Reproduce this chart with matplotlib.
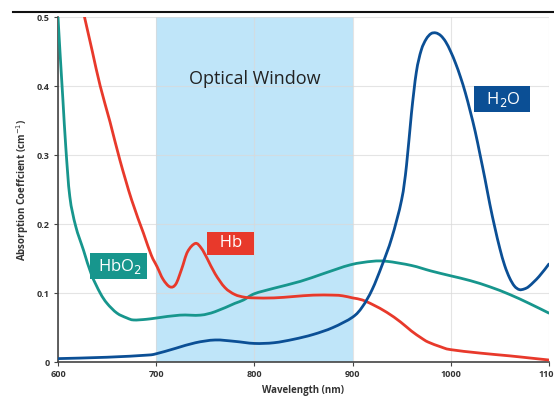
import numpy as np
import matplotlib
matplotlib.use("Agg")
import matplotlib.pyplot as plt
from matplotlib.lines import Line2D
from matplotlib.path import Path
from matplotlib.patches import PathPatch
from matplotlib.ticker import FuncFormatter


# absorption curves (wavelength nm -> cm^-1)
h2o_nm = [600, 650, 690, 700, 720, 740, 760, 780, 800, 820, 840, 860, 880,
          900, 910, 920, 930, 940, 950, 955, 960, 965, 970, 975, 980, 985,
          990, 995, 1000, 1005, 1010, 1015, 1020, 1025, 1030, 1035, 1040,
          1045, 1050, 1055, 1060, 1065, 1070, 1075, 1080, 1090, 1100]
h2o_val = [0.005, 0.007, 0.010, 0.012, 0.020, 0.028, 0.032, 0.030, 0.027,
           0.028, 0.033, 0.040, 0.050, 0.065, 0.080, 0.105, 0.140, 0.180,
           0.235, 0.285, 0.360, 0.420, 0.452, 0.468, 0.476, 0.477, 0.473,
           0.464, 0.450, 0.433, 0.413, 0.390, 0.363, 0.334, 0.300, 0.265,
           0.228, 0.195, 0.165, 0.140, 0.122, 0.110, 0.105, 0.106, 0.110,
           0.124, 0.142]

hb_nm = [627, 635, 643, 653, 663, 675, 687, 695, 701, 707, 714, 720, 726,
         732, 740, 746, 752, 760, 770, 780, 790, 800, 820, 840, 860, 880,
         890, 900, 910, 921, 935, 949, 960, 970, 977, 990, 1000, 1030, 1060,
         1080, 1100]
hb_val = [0.500, 0.450, 0.400, 0.348, 0.293, 0.235, 0.187, 0.155, 0.138,
          0.120, 0.109, 0.113, 0.135, 0.160, 0.172, 0.165, 0.150, 0.128,
          0.108, 0.098, 0.094, 0.093, 0.093, 0.095, 0.097, 0.097, 0.096,
          0.093, 0.090, 0.083, 0.072, 0.058, 0.045, 0.035, 0.029, 0.022,
          0.018, 0.013, 0.009, 0.006, 0.003]

hbo2_nm = [600, 602, 605, 608, 612, 618, 626, 634, 643, 650, 660, 670, 677,
           690, 701, 724, 745, 760, 780, 789, 800, 820, 847, 870, 898, 920,
           935, 960, 980, 1000, 1020, 1040, 1060, 1080, 1100]
hbo2_val = [0.500, 0.450, 0.380, 0.310, 0.240, 0.197, 0.162, 0.127, 0.100,
            0.085, 0.071, 0.064, 0.061, 0.062, 0.064, 0.068, 0.068, 0.073,
            0.085, 0.090, 0.099, 0.107, 0.117, 0.128, 0.141, 0.146, 0.146,
            0.140, 0.132, 0.125, 0.118, 0.109, 0.098, 0.085, 0.071]

window = (700, 900)
x_ticks = [600, 700, 800, 900, 1000, 1100]
y_ticks = [0, 0.1, 0.2, 0.3, 0.4, 0.5]

RED = "#e8392b"
TEAL = "#17968d"
BLUE = "#0b4f95"
SHADE = "#bfe5f9"


def smooth_curve(ax, xs, ys, color, zorder):
    # draw the read points as one bezier path (catmull-rom handles),
    # handles computed in display space so the curve looks even
    pts = ax.transData.transform(np.column_stack([xs, ys]))
    verts = [pts[0]]
    codes = [Path.MOVETO]
    n = len(pts)
    for i in range(n - 1):
        p0 = pts[max(i - 1, 0)]
        p1 = pts[i]
        p2 = pts[i + 1]
        p3 = pts[min(i + 2, n - 1)]
        c1 = p1 + (p2 - p0) / 6.0
        c2 = p2 - (p3 - p1) / 6.0
        verts += [c1, c2, p2]
        codes += [Path.CURVE4] * 3
    path = Path(verts, codes)
    patch = PathPatch(path, facecolor="none", edgecolor=color, lw=2.0,
                      capstyle="round", joinstyle="round",
                      transform=None, zorder=zorder)
    patch.set_clip_path(ax.patch)
    fig.add_artist(patch)


plt.rcParams["font.family"] = ["Open Sans", "DejaVu Sans"]

fig = plt.figure(figsize=(5.54, 3.97), dpi=100)
ax = fig.add_axes([0.1047, 0.088, 0.886, 0.869])

ax.axvspan(*window, color=SHADE, zorder=0.2, lw=0)
ax.grid(True, color="#d9d9d9", lw=0.8, alpha=0.7, zorder=0.5)
ax.set_axisbelow(True)

ax.set_xlim(600, 1100)
ax.set_ylim(0, 0.5)
ax.set_xticks(x_ticks)
ax.set_yticks(y_ticks)
ax.yaxis.set_major_formatter(FuncFormatter(lambda v, p: "0" if v == 0 else f"{v:.1f}"))

smooth_curve(ax, hbo2_nm, hbo2_val, TEAL, 3)
smooth_curve(ax, hb_nm, hb_val, RED, 3)
smooth_curve(ax, h2o_nm, h2o_val, BLUE, 4)

for side in ("top", "right"):
    ax.spines[side].set_visible(False)
for side in ("left", "bottom"):
    ax.spines[side].set_color("#444444")
    ax.spines[side].set_linewidth(1.2)

ax.tick_params(labelsize=6.5, length=3, width=0.8, color="#444444", pad=3)
for lbl in ax.get_xticklabels() + ax.get_yticklabels():
    lbl.set_fontweight("bold")
    lbl.set_color("#333333")

ax.set_xlabel("Wavelength (nm)", fontsize=7, fontweight="bold", color="#333333")
ax.set_ylabel("Absorption Coeffcient (cm$^{-1}$)", fontsize=7,
              fontweight="bold", color="#333333")

ax.text(800, 0.41, "Optical Window", fontsize=13, ha="center", va="center",
        color="#222222")

box = dict(boxstyle="square,pad=0.22", lw=0)
ax.text(662, 0.139, " HbO$_2$ ", fontsize=12, color="white", ha="center",
        va="center", bbox=dict(box, facecolor=TEAL), zorder=5)
ax.text(776, 0.172, "  Hb  ", fontsize=12, color="white", ha="center",
        va="center", bbox=dict(box, facecolor=RED), zorder=5)
ax.text(1052, 0.381, "  H$_2$O  ", fontsize=12, color="white", ha="center",
        va="center", bbox=dict(box, facecolor=BLUE), zorder=5)

fig.add_artist(Line2D([13 / 554, 1.0], [1 - 12 / 397] * 2, color="#111111", lw=1.5))

fig.savefig("out.png", dpi=100)
